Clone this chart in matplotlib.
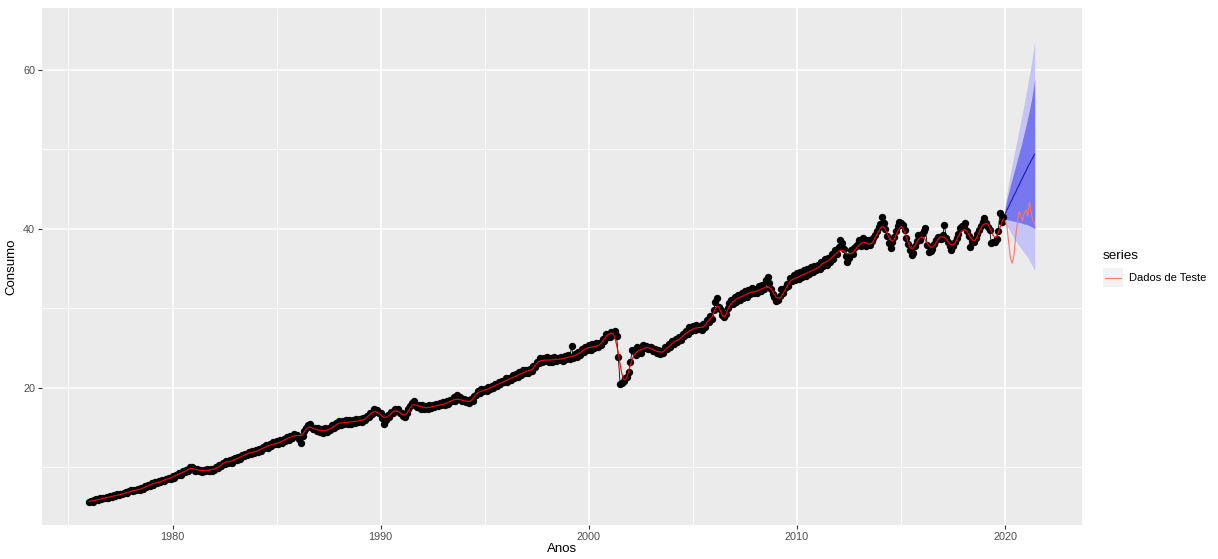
import numpy as np
import matplotlib
matplotlib.use("Agg")
import matplotlib.pyplot as plt
from matplotlib.patches import Rectangle
from matplotlib.lines import Line2D

plt.rcParams["font.family"] = ["Liberation Sans", "DejaVu Sans"]

# serie mensal observada (jan/1976 .. dez/2019), uma linha por ano
inicio = 1976
consumo = [
    5.6, 5.8, 5.7, 5.9, 6.0, 5.9, 6.1, 6.0, 6.2, 6.1, 6.3, 6.2,
    6.4, 6.3, 6.5, 6.4, 6.6, 6.5, 6.7, 6.6, 6.8, 6.9, 6.8, 7.0,
    7.1, 7.0, 7.2, 7.1, 7.3, 7.2, 7.4, 7.3, 7.6, 7.5, 7.8, 7.7,
    8.0, 7.8, 8.1, 8.0, 8.3, 8.1, 8.4, 8.3, 8.6, 8.5, 8.7, 8.6,
    8.9, 8.7, 9.1, 9.0, 9.3, 9.1, 9.5, 9.4, 9.7, 9.6, 10.0, 10.1,
    9.9, 9.6, 9.8, 9.5, 9.7, 9.4, 9.7, 9.5, 9.8, 9.5, 9.8, 9.6,
    9.7, 10.0, 9.9, 10.3, 10.2, 10.6, 10.4, 10.8, 10.6, 10.9, 10.5, 11.0,
    11.2, 10.9, 11.3, 11.1, 11.5, 11.4, 11.7, 11.5, 11.9, 11.7, 12.0, 11.8,
    12.2, 11.9, 12.3, 12.1, 12.6, 12.4, 12.8, 12.5, 13.0, 12.7, 13.2, 12.9,
    13.3, 12.9, 13.4, 13.1, 13.6, 13.3, 13.8, 13.5, 14.0, 13.7, 14.2, 13.9,
    14.1, 13.6, 13.1, 14.0, 14.6, 14.9, 15.3, 15.4, 15.1, 14.8, 15.0, 14.6,
    14.9, 14.4, 14.8, 14.3, 14.9, 14.5, 15.0, 14.7, 15.3, 15.0, 15.6, 15.2,
    15.8, 15.3, 15.8, 15.4, 15.9, 15.4, 16.0, 15.5, 16.0, 15.6, 16.1, 15.7,
    16.1, 15.7, 16.2, 15.9, 16.5, 16.3, 16.9, 16.7, 17.3, 17.0, 17.2, 16.9,
    16.8, 16.2, 15.4, 16.0, 16.6, 16.4, 17.0, 16.8, 17.3, 17.2, 17.4, 16.8,
    16.9, 16.5, 16.3, 16.9, 17.3, 17.7, 18.1, 18.3, 17.9, 17.6, 17.9, 17.4,
    17.8, 17.3, 17.7, 17.4, 17.8, 17.5, 17.9, 17.6, 18.0, 17.7, 18.1, 17.8,
    18.2, 17.8, 18.3, 18.0, 18.5, 18.3, 18.9, 18.4, 19.1, 18.6, 18.8, 18.4,
    18.6, 18.2, 18.5, 18.1, 18.6, 18.4, 19.0, 19.1, 19.6, 19.4, 19.8, 19.6,
    19.9, 19.6, 20.1, 19.8, 20.3, 20.0, 20.5, 20.3, 20.7, 20.5, 20.9, 20.7,
    21.2, 20.8, 21.3, 21.0, 21.6, 21.2, 21.8, 21.4, 22.0, 21.6, 22.2, 21.9,
    22.3, 21.9, 22.4, 22.1, 22.7, 22.6, 23.3, 23.1, 23.7, 23.3, 23.8, 23.4,
    23.9, 23.2, 23.8, 23.3, 23.9, 23.4, 23.8, 23.5, 23.9, 23.4, 24.0, 23.6,
    24.1, 23.6, 25.3, 23.8, 24.3, 23.9, 24.5, 24.2, 24.9, 24.5, 25.2, 24.8,
    25.4, 24.8, 25.5, 25.0, 25.6, 25.1, 25.7, 25.4, 26.2, 25.9, 26.8, 26.4,
    26.4, 27.0, 26.6, 27.2, 26.5, 23.9, 20.5, 20.6, 20.9, 21.2, 21.4, 22.0,
    23.3, 24.8, 24.6, 24.2, 25.2, 24.8, 24.4, 25.4, 25.0, 25.3, 24.9, 25.1,
    25.2, 24.7, 24.9, 24.4, 24.8, 24.3, 24.6, 24.4, 25.1, 24.9, 25.5, 25.2,
    25.9, 25.5, 26.2, 25.8, 26.4, 26.0, 26.8, 26.5, 27.2, 26.8, 27.6, 27.1,
    27.8, 27.3, 27.9, 27.4, 27.8, 27.3, 28.0, 27.7, 28.6, 28.3, 29.0, 28.7,
    29.8, 30.8, 31.3, 30.2, 29.8, 29.2, 28.9, 29.3, 30.1, 30.7, 31.1, 30.6,
    31.5, 30.8, 31.7, 31.1, 32.0, 31.3, 32.2, 31.5, 32.3, 31.8, 32.6, 32.0,
    32.5, 31.9, 32.8, 32.2, 33.0, 32.5, 33.6, 33.9, 33.2, 32.5, 31.8, 31.4,
    30.9, 31.0, 31.6, 32.4, 32.0, 32.6, 33.1, 32.8, 33.8, 33.4, 34.2, 33.6,
    34.4, 33.7, 34.6, 33.9, 34.8, 34.1, 35.0, 34.3, 35.2, 34.6, 35.4, 34.8,
    35.5, 34.9, 35.9, 35.3, 36.2, 35.5, 36.4, 35.8, 36.8, 36.2, 37.3, 36.8,
    37.7, 38.6, 38.2, 37.5, 36.6, 35.8, 36.4, 37.3, 36.8, 37.6, 37.9, 38.1,
    38.6, 37.8, 38.9, 38.4, 37.9, 38.6, 38.0, 38.5, 38.8, 39.3, 39.7, 40.2,
    40.6, 41.5, 40.8, 40.0, 39.1, 38.2, 37.6, 38.4, 39.0, 39.8, 40.4, 40.9,
    40.7, 40.5, 39.9, 38.9, 38.1, 37.3, 36.7, 37.0, 37.9, 38.5, 39.2, 38.6,
    39.4, 39.8, 40.1, 38.0, 37.1, 37.2, 37.5, 38.1, 38.6, 39.0, 38.9, 38.7,
    39.2, 40.5, 38.9, 38.3, 37.8, 37.4, 37.9, 38.4, 38.9, 39.4, 40.1, 40.4,
    40.2, 40.8, 39.8, 39.1, 37.7, 38.5, 38.3, 38.9, 39.4, 39.9, 40.4, 40.9,
    41.4, 40.8, 40.2, 39.9, 38.2, 38.4, 38.3, 38.7, 39.8, 42.0, 40.9, 41.5,
]

# valores ajustados (linha vermelha sobre os pontos)
ajustado = [
    5.7, 5.75, 5.8, 5.85, 5.9, 5.95, 6.0, 6.05, 6.1, 6.15, 6.2, 6.25,
    6.3, 6.35, 6.4, 6.45, 6.5, 6.55, 6.6, 6.65, 6.7, 6.8, 6.85, 6.9,
    7.0, 7.05, 7.1, 7.15, 7.2, 7.25, 7.3, 7.4, 7.5, 7.6, 7.7, 7.8,
    7.9, 7.95, 8.0, 8.1, 8.15, 8.2, 8.3, 8.4, 8.5, 8.55, 8.6, 8.7,
    8.8, 8.9, 9.0, 9.1, 9.2, 9.3, 9.4, 9.5, 9.6, 9.75, 9.85, 9.85,
    9.8, 9.75, 9.7, 9.65, 9.6, 9.6, 9.6, 9.6, 9.6, 9.65, 9.7, 9.75,
    9.8, 9.9, 10.0, 10.1, 10.3, 10.5, 10.6, 10.7, 10.7, 10.75, 10.8, 10.9,
    11.0, 11.1, 11.2, 11.3, 11.4, 11.5, 11.6, 11.7, 11.8, 11.85, 11.9, 11.95,
    12.0, 12.1, 12.2, 12.3, 12.4, 12.5, 12.6, 12.7, 12.8, 12.85, 12.9, 12.95,
    13.0, 13.1, 13.2, 13.3, 13.4, 13.5, 13.6, 13.7, 13.8, 13.9, 13.95, 14.0,
    14.0, 14.0, 14.0, 14.2, 14.5, 14.8, 15.0, 15.1, 15.0, 14.9, 14.8, 14.75,
    14.7, 14.65, 14.6, 14.6, 14.65, 14.7, 14.8, 14.9, 15.0, 15.15, 15.3, 15.45,
    15.55, 15.6, 15.6, 15.65, 15.65, 15.7, 15.7, 15.75, 15.75, 15.8, 15.8, 15.85,
    15.9, 15.95, 16.0, 16.1, 16.3, 16.5, 16.7, 16.9, 17.0, 17.0, 16.9, 16.8,
    16.6, 16.4, 16.3, 16.3, 16.4, 16.6, 16.8, 17.0, 17.1, 17.1, 17.0, 16.9,
    16.7, 16.6, 16.6, 16.8, 17.1, 17.5, 17.8, 17.9, 17.85, 17.8, 17.7, 17.65,
    17.6, 17.55, 17.5, 17.5, 17.55, 17.6, 17.65, 17.7, 17.75, 17.8, 17.85, 17.9,
    17.9, 18.0, 18.1, 18.2, 18.3, 18.4, 18.5, 18.55, 18.6, 18.55, 18.5, 18.45,
    18.4, 18.35, 18.3, 18.3, 18.4, 18.6, 18.9, 19.2, 19.4, 19.5, 19.6, 19.7,
    19.75, 19.8, 19.9, 20.0, 20.1, 20.2, 20.3, 20.4, 20.5, 20.6, 20.7, 20.8,
    20.9, 21.0, 21.1, 21.2, 21.3, 21.4, 21.5, 21.6, 21.7, 21.8, 21.9, 22.0,
    22.1, 22.15, 22.2, 22.3, 22.5, 22.8, 23.1, 23.3, 23.4, 23.45, 23.5, 23.5,
    23.5, 23.5, 23.5, 23.55, 23.55, 23.6, 23.6, 23.65, 23.65, 23.7, 23.75, 23.8,
    23.85, 23.9, 23.95, 24.0, 24.1, 24.2, 24.3, 24.45, 24.6, 24.75, 24.9, 25.0,
    25.05, 25.1, 25.15, 25.2, 25.25, 25.3, 25.4, 25.6, 25.9, 26.2, 26.5, 26.7,
    26.8, 26.9, 26.8, 26.3, 25.4, 24.3, 23.0, 21.8, 21.1, 21.0, 21.4, 22.2,
    22.9, 23.6, 24.1, 24.4, 24.6, 24.7, 24.8, 24.9, 25.0, 25.1, 25.1, 25.0,
    24.9, 24.8, 24.7, 24.6, 24.55, 24.5, 24.5, 24.6, 24.8, 25.0, 25.2, 25.4,
    25.6, 25.8, 25.9, 26.0, 26.1, 26.3, 26.5, 26.7, 26.9, 27.0, 27.2, 27.3,
    27.4, 27.5, 27.55, 27.6, 27.6, 27.6, 27.7, 27.9, 28.2, 28.5, 28.7, 28.9,
    29.5, 30.0, 30.3, 30.1, 29.6, 29.1, 28.9, 29.2, 29.8, 30.3, 30.6, 30.8,
    31.0, 31.2, 31.3, 31.4, 31.5, 31.6, 31.7, 31.8, 31.9, 32.0, 32.05, 32.1,
    32.1, 32.2, 32.3, 32.4, 32.5, 32.6, 32.7, 32.7, 32.6, 32.4, 32.1, 31.7,
    31.4, 31.3, 31.3, 31.5, 31.9, 32.3, 32.7, 33.1, 33.4, 33.6, 33.7, 33.8,
    33.9, 34.0, 34.1, 34.2, 34.3, 34.4, 34.5, 34.6, 34.7, 34.8, 34.9, 35.0,
    35.1, 35.3, 35.5, 35.7, 35.8, 35.9, 36.0, 36.2, 36.4, 36.6, 36.8, 37.0,
    37.2, 37.3, 37.3, 37.2, 37.0, 36.9, 36.9, 36.9, 37.0, 37.2, 37.5, 37.8,
    38.0, 38.2, 38.3, 38.3, 38.2, 38.1, 38.1, 38.2, 38.5, 38.9, 39.3, 39.7,
    40.1, 40.3, 40.2, 39.9, 39.4, 38.9, 38.6, 38.5, 38.7, 39.2, 39.7, 40.1,
    40.3, 40.1, 39.6, 39.0, 38.3, 37.7, 37.5, 37.6, 37.9, 38.3, 38.7, 38.9,
    39.0, 38.9, 38.6, 38.2, 37.9, 37.7, 37.7, 37.9, 38.2, 38.6, 38.9, 39.0,
    39.0, 38.9, 38.7, 38.4, 38.1, 38.0, 38.0, 38.2, 38.6, 39.1, 39.5, 39.8,
    39.9, 39.9, 39.7, 39.3, 38.9, 38.6, 38.5, 38.7, 39.1, 39.6, 40.1, 40.5,
    40.6, 40.7, 40.6, 40.2, 39.7, 39.2, 38.9, 39.0, 39.5, 40.2, 40.8, 41.3,
]

# previsao (jan/2020 .. jun/2021) e intervalos 80% / 95%
inicio_prev = 2020
previsao = [41.9, 42.4, 42.8, 43.3, 43.7, 44.2, 44.6, 45.1, 45.5,
            46.0, 46.4, 46.9, 47.3, 47.8, 48.2, 48.6, 49.0, 49.4]
lo80 = [41.2, 41.2, 41.1, 41.1, 41.0, 41.0, 40.9, 40.9, 40.8,
        40.8, 40.7, 40.6, 40.6, 40.5, 40.4, 40.3, 40.2, 40.0]
hi80 = [42.6, 43.7, 44.6, 45.5, 46.3, 47.1, 47.9, 48.7, 49.5,
        50.3, 51.2, 52.1, 53.0, 54.0, 55.0, 56.1, 57.4, 58.8]
lo95 = [40.8, 40.4, 40.0, 39.6, 39.2, 38.8, 38.5, 38.2, 37.9,
        37.6, 37.3, 37.0, 36.7, 36.4, 36.0, 35.6, 35.2, 34.7]
hi95 = [43.0, 44.5, 45.8, 47.0, 48.1, 49.2, 50.3, 51.4, 52.5,
        53.6, 54.7, 55.8, 57.0, 58.2, 59.4, 60.7, 62.1, 63.6]
teste = [41.0, 40.4, 38.3, 36.4, 35.7, 36.6, 38.9, 40.8, 42.2,
         41.7, 41.0, 42.0, 42.4, 41.6, 43.4, 42.0, 41.0, 40.6]

anos_ticks = [1980, 1990, 2000, 2010, 2020]
anos_minor = [1975, 1985, 1995, 2005, 2015]
cons_ticks = [20, 40, 60]
cons_minor = [10, 30, 50]

t = inicio + np.arange(len(consumo)) / 12
tp = inicio_prev + np.arange(len(previsao)) / 12

W, H = 1218, 559
fig = plt.figure(figsize=(W / 100, H / 100), dpi=100)
ax = fig.add_axes([42 / W, 1 - 525 / H, (1082 - 42) / W, (525 - 8) / H])
ax.set_facecolor("#EBEBEB")
for s in ax.spines.values():
    s.set_visible(False)

ax.set_xlim(1973.73, 2023.69)
ax.set_ylim(2.75, 67.8)
ax.set_xticks(anos_ticks)
ax.set_xticks(anos_minor, minor=True)
ax.set_yticks(cons_ticks)
ax.set_yticks(cons_minor, minor=True)
ax.grid(which="major", color="white", lw=1.1)
ax.grid(which="minor", color="white", lw=0.55)
ax.set_axisbelow(True)
ax.tick_params(which="major", length=3, width=0.8, color="#333333",
               labelcolor="#4D4D4D", labelsize=7.8, pad=2)
ax.tick_params(which="minor", length=0)

# bandas de previsao
ax.fill_between(tp, lo95, hi95, color="#C4C4F6", lw=0)
ax.fill_between(tp, lo80, hi80, color="#7777EE", lw=0)
ax.plot(tp, previsao, color="#1A1AC0", lw=0.8)

# serie observada + ajuste
ax.plot(t, consumo, color="black", lw=0.6, marker="o", ms=5.3,
        markeredgewidth=0)
ax.plot(t, ajustado, color="red", lw=0.8)
ax.plot(tp, teste, color="#F8766D", lw=0.8)

ax.set_xlabel("Anos", fontsize=9.5, color="black", labelpad=1)
ax.set_ylabel("Consumo", fontsize=9.5, color="black", labelpad=4)

# legenda no estilo ggplot
fig.text(1103 / W, 1 - 256 / H, "series", fontsize=9.7, va="center")
fig.patches.append(Rectangle((1103 / W, 1 - 287 / H), 20 / W, 19 / H,
                             transform=fig.transFigure, color="#F2F2F2", lw=0))
fig.lines.append(Line2D([1105 / W, 1121 / W], [1 - 278 / H] * 2,
                        transform=fig.transFigure, color="#F8766D", lw=0.8))
fig.text(1129 / W, 1 - 278 / H, "Dados de Teste", fontsize=8, va="center")

fig.savefig("out.png", dpi=100)
